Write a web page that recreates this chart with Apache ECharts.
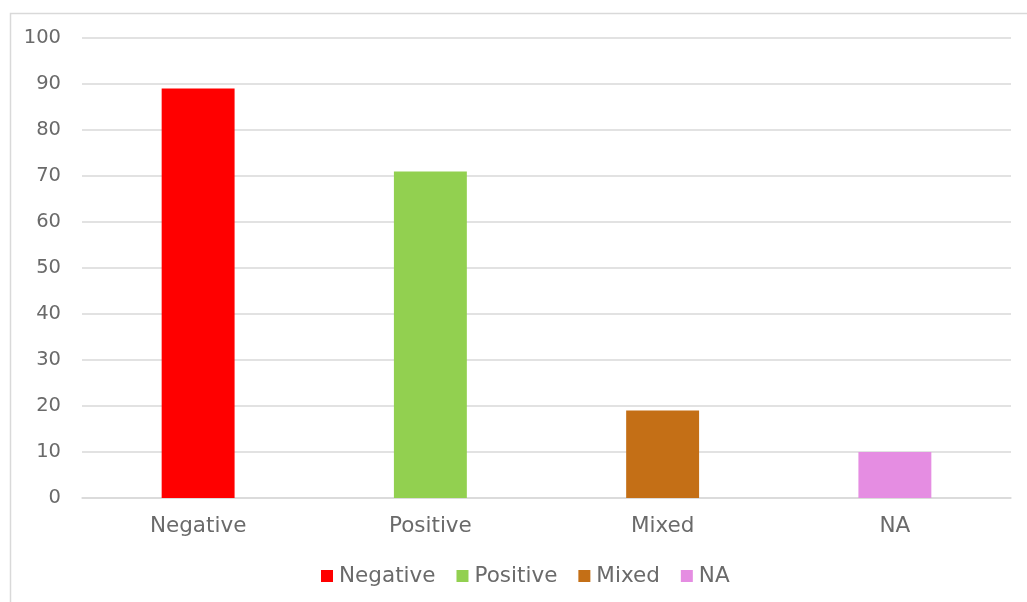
<!DOCTYPE html>
<html><head><meta charset="utf-8">
<script src="https://cdn.jsdelivr.net/npm/echarts@6/dist/echarts.min.js"></script>
<style>html,body{margin:0;padding:0;background:#fff}#c{width:1027px;height:602px}</style>
</head><body><div id="c"></div>
<script>
const categories = ['Negative', 'Positive', 'Mixed', 'NA'];
const values = [89, 71, 19, 10];
const colors = ['#FF0000', '#92D050', '#C46F16', '#E58DE2'];
const yTicks = [0, 10, 20, 30, 40, 50, 60, 70, 80, 90, 100];

const font = '"DejaVu Sans", sans-serif';
const txt = { fontFamily: font, fontSize: 21.5, fontWeight: 'normal', color: '#6a6a6a' };
const series = categories.map((name, i) => ({
  name: name,
  type: 'bar',
  stack: 'all',
  barWidth: '31.4%',
  itemStyle: { color: colors[i] },
  data: values.map((v, j) => (j === i ? v : '-'))
}));

const chart = echarts.init(document.getElementById('c'), null, { renderer: 'canvas' });
chart.setOption({
  animation: false,
  backgroundColor: '#fff',
  graphic: [{
    type: 'rect', left: 8, top: 11, shape: { width: 1040, height: 620 },
    style: { fill: 'none', stroke: '#d9d9d9', lineWidth: 1.5 }, silent: true
  }],
  grid: { left: 82, right: 16, top: 38, bottom: 104, containLabel: false },
  legend: {
    bottom: 10, left: 316, itemWidth: 12, itemHeight: 12, itemGap: 21,
    icon: 'rect',
    textStyle: Object.assign({ padding: [0, 0, 0, 1] }, txt),
    data: categories
  },
  xAxis: {
    type: 'category', data: categories,
    axisLine: { lineStyle: { color: '#d9d9d9', width: 1.5 } },
    axisTick: { show: false },
    axisLabel: Object.assign({}, txt, { margin: 17 })
  },
  yAxis: {
    type: 'value', min: yTicks[0], max: yTicks[yTicks.length - 1], interval: 10,
    axisLine: { show: false }, axisTick: { show: false },
    splitLine: { lineStyle: { color: '#d9d9d9', width: 1.5 } },
    axisLabel: Object.assign({}, txt, { fontSize: 19.5, margin: 21 })
  },
  series: series
});
</script></body></html>
